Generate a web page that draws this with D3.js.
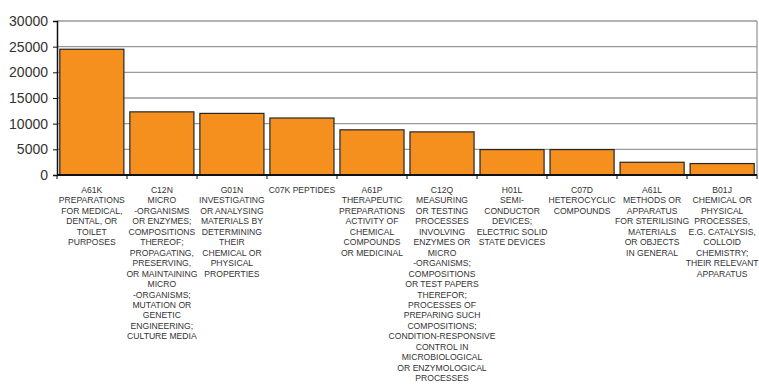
<!DOCTYPE html>
<html>
<head>
<meta charset="utf-8">
<script src="https://cdn.jsdelivr.net/npm/d3@7"></script>
<style>
  html, body { margin: 0; padding: 0; background: #fff; }
  svg { display: block; font-family: "Liberation Sans", Arial, sans-serif; }
</style>
</head>
<body>
<svg id="chart" width="759" height="385"></svg>
<script>
// IPC classes and record counts
const codes = ["A61K", "C12N", "G01N", "C07K", "A61P", "C12Q", "H01L", "C07D", "A61L", "B01J"];
const counts = [24500, 12300, 12000, 11100, 8800, 8400, 4950, 4950, 2480, 2230];
const labelLines = [
  ["A61K", "PREPARATIONS", "FOR MEDICAL,", "DENTAL, OR", "TOILET", "PURPOSES"],
  ["C12N", "MICRO", "-ORGANISMS", "OR ENZYMES;", "COMPOSITIONS", "THEREOF;", "PROPAGATING,", "PRESERVING,", "OR MAINTAINING", "MICRO", "-ORGANISMS;", "MUTATION OR", "GENETIC", "ENGINEERING;", "CULTURE MEDIA"],
  ["G01N", "INVESTIGATING", "OR ANALYSING", "MATERIALS BY", "DETERMINING", "THEIR", "CHEMICAL OR", "PHYSICAL", "PROPERTIES"],
  ["C07K PEPTIDES"],
  ["A61P", "THERAPEUTIC", "PREPARATIONS", "ACTIVITY OF", "CHEMICAL", "COMPOUNDS", "OR MEDICINAL"],
  ["C12Q", "MEASURING", "OR TESTING", "PROCESSES", "INVOLVING", "ENZYMES OR", "MICRO", "-ORGANISMS;", "COMPOSITIONS", "OR TEST PAPERS", "THEREFOR;", "PROCESSES OF", "PREPARING SUCH", "COMPOSITIONS;", "CONDITION-RESPONSIVE", "CONTROL IN", "MICROBIOLOGICAL", "OR ENZYMOLOGICAL", "PROCESSES"],
  ["H01L", "SEMI-", "CONDUCTOR", "DEVICES;", "ELECTRIC SOLID", "STATE DEVICES"],
  ["C07D", "HETEROCYCLIC", "COMPOUNDS"],
  ["A61L", "METHODS OR", "APPARATUS", "FOR STERILISING", "MATERIALS", "OR OBJECTS", "IN GENERAL"],
  ["B01J", "CHEMICAL OR", "PHYSICAL", "PROCESSES,", "E.G. CATALYSIS,", "COLLOID", "CHEMISTRY;", "THEIR RELEVANT", "APPARATUS"]
];
const yTicks = [0, 5000, 10000, 15000, 20000, 25000, 30000];

const svg = d3.select("#chart");
const margin = { left: 57, right: 2, top: 21, bottom: 210 };
const W = 759, H = 385;
const plotRight = W - margin.right;
const plotBottom = H - margin.bottom;

const x = d3.scaleBand()
  .domain(codes)
  .range([margin.left, plotRight])
  .paddingInner(0.085)
  .paddingOuter(0.04);

const y = d3.scaleLinear()
  .domain([0, 30000])
  .range([plotBottom, margin.top]);

// horizontal gridlines
svg.append("g")
  .selectAll("line")
  .data(yTicks.filter(d => d > 0))
  .join("line")
  .attr("x1", margin.left)
  .attr("x2", plotRight)
  .attr("y1", d => y(d))
  .attr("y2", d => y(d))
  .attr("stroke", "#9a9a9a")
  .attr("stroke-width", 1.3);

// right frame
svg.append("line")
  .attr("x1", plotRight).attr("x2", plotRight)
  .attr("y1", y(30000)).attr("y2", plotBottom)
  .attr("stroke", "#9a9a9a").attr("stroke-width", 1.3);

// bars
svg.append("g")
  .selectAll("rect")
  .data(codes.map((c, i) => ({ code: c, value: counts[i] })))
  .join("rect")
  .attr("x", d => x(d.code))
  .attr("y", d => y(d.value))
  .attr("width", x.bandwidth())
  .attr("height", d => y(0) - y(d.value))
  .attr("fill", "#F5901F")
  .attr("stroke", "#262626")
  .attr("stroke-width", 1.2);

// y axis
const yAxis = d3.axisLeft(y)
  .tickValues(yTicks)
  .tickFormat(d3.format("d"))
  .tickSize(4)
  .tickPadding(5);
const gy = svg.append("g")
  .attr("transform", `translate(${margin.left},0)`)
  .call(yAxis);
gy.select(".domain").attr("stroke", "#111").attr("stroke-width", 1.5);
gy.selectAll(".tick line").attr("stroke", "#111");
gy.selectAll(".tick text")
  .attr("font-size", 14)
  .attr("fill", "#333")
  .attr("font-family", "Liberation Sans, Arial, sans-serif");

// x axis baseline with boundary ticks
svg.append("line")
  .attr("x1", margin.left).attr("x2", plotRight)
  .attr("y1", plotBottom).attr("y2", plotBottom)
  .attr("stroke", "#111").attr("stroke-width", 2.2);

const step = x.step();
const boundaries = d3.range(codes.length + 1).map(i => margin.left + i * (plotRight - margin.left) / codes.length);
svg.append("g")
  .selectAll("line")
  .data(boundaries)
  .join("line")
  .attr("x1", d => d).attr("x2", d => d)
  .attr("y1", plotBottom).attr("y2", plotBottom + 4)
  .attr("stroke", "#111").attr("stroke-width", 1);

// category labels
const lineH = 10.45;
const labels = svg.append("g")
  .attr("font-size", 8.6)
  .attr("fill", "#333")
  .attr("text-anchor", "middle");
codes.forEach((c, i) => {
  const cx = x(c) + x.bandwidth() / 2;
  const t = labels.append("text").attr("x", cx).attr("y", plotBottom + 18);
  labelLines[i].forEach((ln, k) => {
    t.append("tspan")
      .attr("x", cx)
      .attr("y", plotBottom + 18 + k * lineH)
      .text(ln);
  });
});
</script>
</body>
</html>
